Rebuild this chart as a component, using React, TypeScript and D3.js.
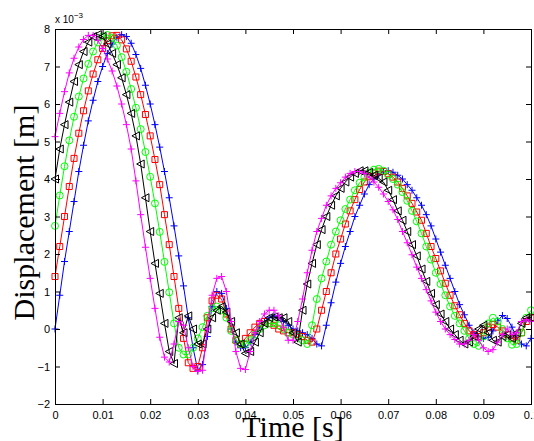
import React, { useEffect, useRef } from 'react';
import * as d3 from 'd3';

// sample times, 1 ms apart (0 .. 0.1 s)
const timeS = d3.range(0, 101).map(i => i / 1000);

// displacement in units of 1e-3 m, one value per sample
const blueDisp = [
  0, 0.9, 1.8, 2.6, 3.4, 4.2, 4.9, 5.55, 6.1, 6.6,
  7.0, 7.35, 7.6, 7.78, 7.85, 7.8, 7.62, 7.32, 6.95, 6.5,
  6.0, 5.45, 4.85, 4.2, 3.5, 2.75, 1.95, 1.15, 0.3, -0.5,
  -1.1, -0.95, -0.2, 0.6, 1.0, 0.95, 0.55, 0.0, -0.35, -0.5,
  -0.5, -0.35, -0.15, 0.05, 0.2, 0.3, 0.35, 0.3, 0.2, 0.1,
  0.0, -0.05, -0.1, -0.15, -0.25, -0.4, -0.45, 0.1, 0.7, 1.25,
  1.75, 2.2, 2.6, 3.0, 3.3, 3.6, 3.85, 4.0, 4.12, 4.2,
  4.22, 4.18, 4.1, 4.0, 3.85, 3.7, 3.5, 3.3, 3.05, 2.75,
  2.4, 2.05, 1.7, 1.35, 1.0, 0.65, 0.38, 0.1, -0.1, -0.2,
  -0.25, -0.22, -0.05, 0.22, 0.36, 0.28, 0.05, -0.22, -0.4, -0.45,
  -0.25,
];

const redDisp = [
  1.4, 2.2, 3.0, 3.8, 4.55, 5.22, 5.82, 6.35, 6.8, 7.18,
  7.48, 7.69, 7.82, 7.83, 7.71, 7.47, 7.14, 6.72, 6.25, 5.72,
  5.15, 4.52, 3.85, 3.05, 2.25, 1.4, 0.55, -0.25, -0.9, -1.05,
  -1.0, -0.5, 0.3, 0.75, 0.9, 0.8, 0.4, 0.0, -0.3, -0.4,
  -0.25, -0.1, 0.05, 0.15, 0.2, 0.15, 0.1, 0.0, -0.05, -0.1,
  -0.1, -0.15, -0.2, -0.3, -0.35, 0.0, 0.5, 1.0, 1.5, 2.0,
  2.4, 2.8, 3.15, 3.45, 3.72, 3.92, 4.06, 4.16, 4.21, 4.2,
  4.14, 4.05, 3.92, 3.75, 3.55, 3.35, 3.12, 2.9, 2.55, 2.2,
  1.88, 1.55, 1.22, 0.9, 0.62, 0.38, 0.15, -0.05, -0.15, -0.2,
  -0.1, 0.05, 0.12, 0.05, -0.05, -0.15, -0.25, -0.3, -0.1, 0.2,
  0.3,
];

const greenDisp = [
  2.75, 3.56, 4.34, 5.03, 5.66, 6.2, 6.68, 7.07, 7.4, 7.64,
  7.8, 7.84, 7.76, 7.56, 7.25, 6.86, 6.4, 5.9, 5.33, 4.72,
  4.06, 3.35, 2.59, 1.79, 0.98, 0.15, -0.5, -0.68, -0.68, -0.5,
  -0.25, 0.05, 0.35, 0.55, 0.6, 0.5, 0.3, -0.05, -0.3, -0.4,
  -0.4, -0.3, -0.15, 0.0, 0.1, 0.15, 0.15, 0.1, 0.0, -0.1,
  -0.15, -0.2, -0.3, -0.4, 0.1, 0.8, 1.35, 1.8, 2.25, 2.6,
  2.9, 3.2, 3.45, 3.7, 3.9, 4.05, 4.17, 4.25, 4.27, 4.22,
  4.12, 4.0, 3.85, 3.65, 3.42, 3.15, 2.87, 2.55, 2.2, 1.85,
  1.5, 1.2, 0.9, 0.6, 0.35, 0.15, -0.05, -0.25, -0.4, -0.45,
  -0.2, 0.15, 0.3, 0.2, 0.0, -0.25, -0.42, -0.4, -0.1, 0.3,
  0.5,
];

const blackDisp = [
  4.0, 4.8, 5.45, 6.05, 6.6, 7.05, 7.4, 7.65, 7.8, 7.85,
  7.8, 7.6, 7.35, 7.05, 6.7, 6.25, 5.75, 5.15, 4.4, 3.5,
  2.6, 1.75, 0.95, 0.15, -0.6, -0.92, 0.3, -0.1, 0.35, 0.0,
  -0.4, -0.4, 0.0, 0.3, 0.5, 0.6, 0.45, 0.2, -0.1, -0.4,
  -0.65, -0.6, -0.35, -0.1, 0.15, 0.3, 0.32, 0.3, 0.3, 0.2,
  -0.1, -0.35, 0.5, 1.2, 1.75, 2.25, 2.65, 3.0, 3.3, 3.55,
  3.75, 3.92, 4.05, 4.15, 4.22, 4.22, 4.18, 4.1, 4.02, 3.92,
  3.7, 3.45, 3.15, 2.9, 2.6, 2.25, 1.95, 1.6, 1.27, 0.95,
  0.65, 0.4, 0.2, 0.0, -0.15, -0.3, -0.4, -0.35, -0.2, 0.0,
  0.1, -0.1, -0.3, -0.35, -0.2, -0.15, -0.25, -0.1, 0.15, 0.3,
  0.3,
];

const magentaDisp = [
  5.13, 5.75, 6.33, 6.83, 7.22, 7.52, 7.72, 7.83, 7.83, 7.7,
  7.48, 7.2, 6.88, 6.48, 6.0, 5.45, 4.8, 3.95, 3.05, 2.18,
  1.35, 0.55, -0.22, -0.75, -0.88, -0.4, 0.2, 0.1, -0.5, -1.0,
  -1.13, -1.1, 0.0, 0.9, 1.35, 1.4, 1.0, 0.2, -0.6, -1.05,
  -1.08, -0.6, -0.1, 0.2, 0.4, 0.5, 0.5, 0.35, 0.05, -0.3,
  -0.3, 0.2, 0.8, 1.5, 2.1, 2.6, 2.95, 3.3, 3.55, 3.75,
  3.9, 4.05, 4.15, 4.2, 4.2, 4.15, 4.05, 3.92, 3.78, 3.6,
  3.4, 3.18, 2.92, 2.6, 2.3, 1.98, 1.65, 1.35, 1.05, 0.75,
  0.45, 0.2, 0.0, -0.15, -0.28, -0.4, -0.4, -0.3, -0.15, -0.3,
  -0.5, -0.6, -0.55, -0.35, -0.15, 0.0, -0.15, -0.1, 0.2, 0.25,
  0.2,
];

const xTicks = [0, 0.01, 0.02, 0.03, 0.04, 0.05, 0.06, 0.07, 0.08, 0.09, 0.1];
const xTickLabels = ['0', '0.01', '0.02', '0.03', '0.04', '0.05', '0.06', '0.07', '0.08', '0.09', '0.1'];
const yTicks = [-2, -1, 0, 1, 2, 3, 4, 5, 6, 7, 8];

// marker outlines, centred on the point
const markerPaths = {
  plus: 'M-3.5,0H3.5M0,-3.5V3.5',
  square: 'M-3,-3H3V3H-3Z',
  circle: 'M3.5,0A3.5,3.5 0 1,1 -3.5,0A3.5,3.5 0 1,1 3.5,0Z',
  triangle: 'M-4,0L3.5,-4L3.5,4Z',
};

const series = [
  { values: blueDisp, color: '#0000ff', marker: 'plus' },
  { values: redDisp, color: '#ff0000', marker: 'square' },
  { values: greenDisp, color: '#00ff00', marker: 'circle' },
  { values: blackDisp, color: '#000000', marker: 'triangle' },
  { values: magentaDisp, color: '#ff00ff', marker: 'plus' },
];

const App = () => {
  const svgRef = useRef<SVGSVGElement>(null);

  useEffect(() => {
    const svg = d3.select(svgRef.current);
    svg.selectAll('*').remove();

    const left = 55, right = 531, top = 29, bottom = 404;

    const x = d3.scaleLinear().domain([0, 0.1]).range([left, right]);
    const y = d3.scaleLinear().domain([-2, 8]).range([bottom, top]);

    svg.append('rect')
      .attr('width', 534).attr('height', 441).attr('fill', '#fff');

    // lines and markers
    const line = d3.line<number>()
      .x((_, i) => x(timeS[i]))
      .y(d => y(d));

    series.forEach(s => {
      const g = svg.append('g');
      g.append('path')
        .attr('d', line(s.values))
        .attr('fill', 'none')
        .attr('stroke', s.color)
        .attr('stroke-width', 1);
      g.selectAll('path.m')
        .data(s.values)
        .enter()
        .append('path')
        .attr('class', 'm')
        .attr('transform', (d, i) => `translate(${x(timeS[i])},${y(d)})`)
        .attr('d', markerPaths[s.marker])
        .attr('fill', 'none')
        .attr('stroke', s.color)
        .attr('stroke-width', 1);
    });

    const font = 'Liberation Sans, Arial, sans-serif';

    // axes, ticks pointing inward
    const xAxis = svg.append('g')
      .attr('transform', `translate(0,${bottom})`)
      .call(d3.axisBottom(x).tickValues(xTicks)
        .tickFormat((_, i) => xTickLabels[i])
        .tickSizeInner(-5).tickSizeOuter(0).tickPadding(7));

    const yAxis = svg.append('g')
      .attr('transform', `translate(${left},0)`)
      .call(d3.axisLeft(y).tickValues(yTicks)
        .tickFormat(d => (d < 0 ? '\u2212' + Math.abs(d) : String(d)))
        .tickSizeInner(-5).tickSizeOuter(0).tickPadding(5));

    const topAxis = svg.append('g')
      .attr('transform', `translate(0,${top})`)
      .call(d3.axisTop(x).tickValues(xTicks).tickFormat(() => '')
        .tickSizeInner(-5).tickSizeOuter(0));

    const rightAxis = svg.append('g')
      .attr('transform', `translate(${right},0)`)
      .call(d3.axisRight(y).tickValues(yTicks).tickFormat(() => '')
        .tickSizeInner(-5).tickSizeOuter(0));

    [xAxis, yAxis, topAxis, rightAxis].forEach(a => {
      a.select('.domain').remove();
      a.selectAll('line').attr('stroke', '#000');
      a.selectAll('text')
        .attr('font-family', font)
        .attr('font-size', 11)
        .attr('fill', '#000');
    });

    // axes box
    svg.append('rect')
      .attr('x', left + 0.5).attr('y', top + 0.5)
      .attr('width', right - left).attr('height', bottom - top)
      .attr('fill', 'none')
      .attr('stroke', '#000')
      .attr('stroke-width', 1);

    // exponent label
    const expo = svg.append('text')
      .attr('x', left)
      .attr('y', 23)
      .attr('font-family', font)
      .attr('font-size', 10)
      .attr('fill', '#000');
    expo.append('tspan').text('x 10');
    expo.append('tspan').attr('dy', -5).attr('font-size', 8).text('\u22123');

    // axis titles
    svg.append('text')
      .attr('x', (left + right) / 2)
      .attr('y', 437)
      .attr('text-anchor', 'middle')
      .attr('font-family', 'Liberation Serif, Times New Roman, serif')
      .attr('font-size', 30)
      .attr('fill', '#000')
      .text('Time [s]');

    svg.append('text')
      .attr('transform', `translate(34,${(top + bottom) / 2 - 4}) rotate(-90)`)
      .attr('text-anchor', 'middle')
      .attr('font-family', 'Liberation Serif, Times New Roman, serif')
      .attr('font-size', 30)
      .attr('fill', '#000')
      .text('Displacement [m]');

    return () => {
      svg.selectAll('*').remove();
    };
  }, []);

  return (
    <svg
      ref={svgRef}
      width={534}
      height={441}
      style={{ position: 'absolute', left: 0, top: 0, display: 'block' }}
    />
  );
};

export default App;
